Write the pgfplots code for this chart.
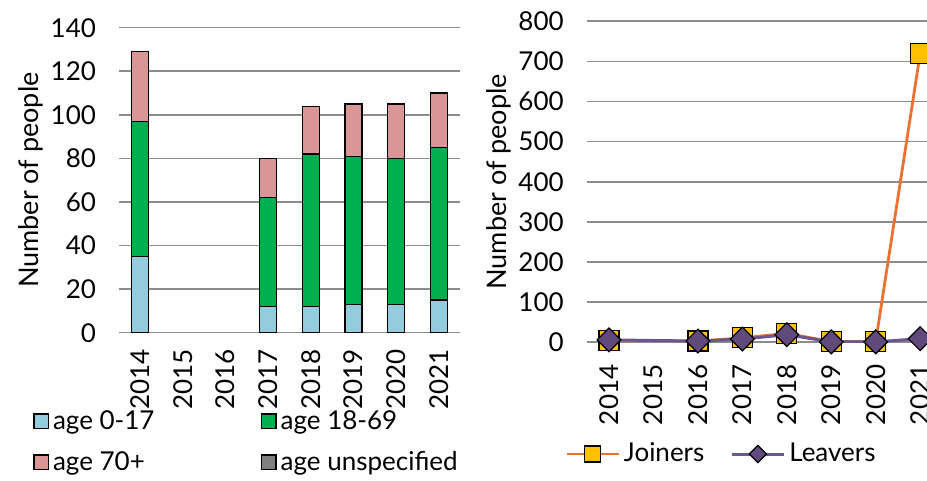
\documentclass[border=0pt]{standalone}
\usepackage{fontspec}
\setmainfont{Lato}
\usepackage{pgfplots}
\usepackage{pgfplotstable}
\pgfplotsset{compat=1.18}

\definecolor{c017}{HTML}{93CDDD}
\definecolor{c1869}{HTML}{00B050}
\definecolor{c70}{HTML}{D99694}
\definecolor{cunk}{HTML}{7F7F7F}
\definecolor{gridc}{HTML}{8C8C8C}
\definecolor{joinl}{HTML}{E97132}
\definecolor{joinf}{HTML}{FFC000}
\definecolor{leavl}{HTML}{6B5690}
\definecolor{leavf}{HTML}{604A7B}

% age groups, years at 0..7 (2015 and 2016 have no data)
\pgfplotstableread{
x  a  b  c
0 35 62 32
3 12 50 18
4 12 70 22
5 13 68 24
6 13 67 25
7 15 70 25
}\agetable

\pgfplotsset{
  /pgf/number format/assume math mode=true,
  common/.style={
    scale only axis,
    xmin=-0.5, xmax=7.5, ymin=0,
    xtick={0,...,7},
    xticklabels={2014,2015,2016,2017,2018,2019,2020,2021},
    axis line style={draw=none},
    tick style={draw=none},
    ymajorgrids,
    major grid style={gridc, line width=0.8pt},
    tick label style={font=\fontsize{13}{15}\selectfont},
    label style={font=\fontsize{13.5}{15}\selectfont},
    xticklabel style={rotate=90, anchor=east, inner xsep=8pt},
    yticklabel style={xshift=-8pt},
    ylabel style={at={(axis description cs:0,0.5)}, anchor=center, yshift=44pt},
    ylabel={Number of people},
  },
  joinleg/.style={legend image code/.code={
    \draw[joinl, line width=1.4pt] (0pt,0pt) -- (26pt,0pt);
    \draw[draw=black, fill=joinf, line width=0.6pt] (9pt,-4pt) rectangle (17pt,4pt);}},
  leavleg/.style={legend image code/.code={
    \draw[leavl, line width=1.5pt] (0pt,0pt) -- (26pt,0pt);
    \draw[draw=black, fill=leavf, line width=0.6pt] (13pt,-4.3pt) -- (17.3pt,0pt) -- (13pt,4.3pt) -- (8.7pt,0pt) -- cycle;}},
}

\begin{document}
\begin{tikzpicture}
\path[use as bounding box] (0,0) rectangle (463.5pt,240.5pt);
\clip (0,0) rectangle (463.5pt,240.5pt);

\begin{axis}[common,
  at={(59.5pt,74.15pt)}, anchor=south west,
  width=170.5pt, height=152.5pt,
  ymax=140, ytick={0,20,...,140},
  ybar stacked, bar width=8.5pt,
  every axis plot/.append style={draw=black, line width=0.6pt},
  legend columns=2,
  legend cell align=left,
  legend image code/.code={\draw[#1, draw=black, line width=0.6pt] (0pt,-3.6pt) rectangle (7.2pt,3.6pt);},
  legend style={draw=none, fill=none, inner sep=0pt,
    font=\fontsize{13}{15}\selectfont,
    at={(-0.252,-0.24)}, anchor=north west,
    row sep=5.5pt,
    /tikz/every even column/.append style={column sep=2pt}},
]
\addplot[fill=c017] table[x=x, y=a] {\agetable};
\addlegendentry{\makebox[100pt][l]{age 0-17}}
\addplot[fill=c1869] table[x=x, y=b] {\agetable};
\addlegendentry{age 18-69}
\addplot[fill=c70] table[x=x, y=c] {\agetable};
\addlegendentry{\makebox[100pt][l]{age 70+}}
\addlegendimage{fill=cunk}
\addlegendentry{age unspecified}
\end{axis}

\begin{axis}[common,
  at={(293.4pt,69.35pt)}, anchor=south west,
  width=177.8pt, height=160.5pt,
  ymax=800, ytick={0,100,...,800},
  xticklabel style={inner xsep=11pt},
  legend columns=2,
  legend style={draw=none, fill=none, inner sep=0pt,
    font=\fontsize{13}{15}\selectfont,
    at={(-0.062,-0.348)}, anchor=west,
    /tikz/every odd column/.append style={column sep=0pt},
    /tikz/every even column/.append style={column sep=11pt}},
]
\addplot[joinl, line width=1.4pt, mark=square*,
  mark options={draw=black, fill=joinf, line width=0.6pt}, mark size=5pt, joinleg]
coordinates {(0,5) (2,3) (3,11) (4,22) (5,2) (6,2) (7,720)};
\addlegendentry{Joiners}
\addplot[leavl, line width=1.5pt, mark=square*,
  mark options={draw=black, fill=leavf, line width=0.6pt, rotate=45}, mark size=4.2pt, leavleg]
coordinates {(0,6) (2,3) (3,8) (4,19) (5,1) (6,1) (7,9)};
\addlegendentry{Leavers}
\end{axis}
\end{tikzpicture}
\end{document}
